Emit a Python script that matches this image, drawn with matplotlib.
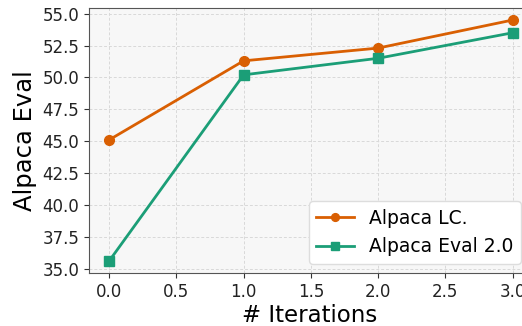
import matplotlib
matplotlib.use("Agg")
import matplotlib.pyplot as plt

iterations = [0, 1, 2, 3]
alpaca_lc = [45.1, 51.3, 52.3, 54.5]
alpaca_eval2 = [35.6, 50.2, 51.5, 53.5]

fig = plt.figure(figsize=(5.22, 3.26), dpi=100)
ax = fig.add_axes([89 / 522, 53 / 326, (530 - 89) / 522, (318 - 53) / 326])
ax.set_facecolor("#f7f7f7")

ax.plot(iterations, alpaca_lc, color="#d95f02", marker="o", markersize=7,
        linewidth=2, label="Alpaca LC.")
ax.plot(iterations, alpaca_eval2, color="#1b9e77", marker="s", markersize=6.5,
        linewidth=2, label="Alpaca Eval 2.0")

ax.set_xlim(-0.15, 3.13)
ax.set_xticks([0.0, 0.5, 1.0, 1.5, 2.0, 2.5, 3.0])
ax.set_yticks([35.0, 37.5, 40.0, 42.5, 45.0, 47.5, 50.0, 52.5, 55.0])
ax.set_xticklabels([f"{v:.1f}" for v in ax.get_xticks()])
ax.set_yticklabels([f"{v:.1f}" for v in ax.get_yticks()])
ax.tick_params(labelsize=12, colors="#333333", labelcolor="#222222")

ax.grid(True, linestyle=(0, (3, 2)), color="#d9d9d9", linewidth=0.7)
ax.set_axisbelow(True)
for side in ["left", "bottom", "top", "right"]:
    ax.spines[side].set_color("#555555")

ax.set_xlabel("# Iterations", fontsize=16.5, labelpad=2)
ax.set_ylabel("Alpaca Eval", fontsize=17.5, labelpad=4)

leg = ax.legend(loc="lower right", fontsize=13.5, frameon=True, framealpha=1.0,
                edgecolor="#dddddd", fancybox=True, markerscale=0.8)

fig.savefig("out.png", dpi=100)
